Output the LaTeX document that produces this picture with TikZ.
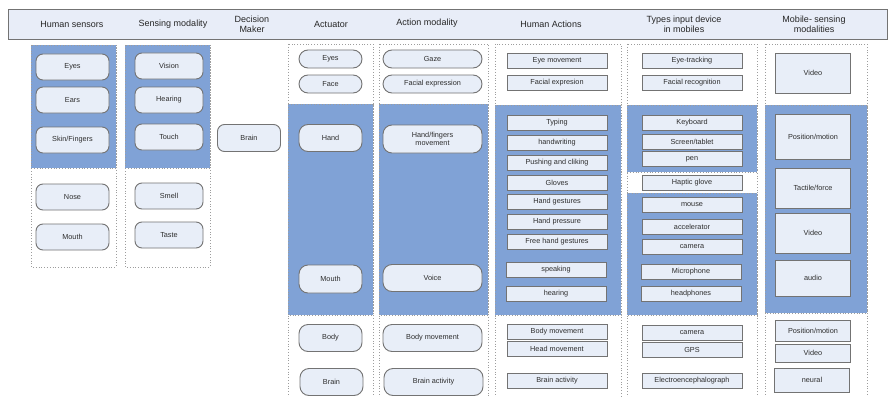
\documentclass[tikz,border=0pt]{standalone}
\usepackage{fontspec}
\setmainfont{Liberation Sans}
\definecolor{regblue}{RGB}{128,162,214}
\definecolor{nodefill}{RGB}{232,238,248}
\definecolor{hdrfill}{RGB}{232,237,248}
\definecolor{edgegray}{RGB}{115,115,115}
\definecolor{txt}{RGB}{45,45,45}
\begin{document}
\begin{tikzpicture}[x=1pt,y=-1pt,
  hdr/.style={font=\fontsize{9}{10}\selectfont, text=black!85, align=center},
  wreg/.style={draw=edgegray!70, dotted, line width=0.8pt, fill=white},
  breg/.style={draw=edgegray!70, dotted, line width=0.8pt, fill=regblue},
  rbox/.style={draw=edgegray, line width=0.9pt, fill=nodefill, rounded corners=7pt, inner sep=0pt,
     font=\fontsize{7.3}{8.3}\selectfont, text=txt, align=center},
  pbox/.style={draw=edgegray, line width=0.9pt, fill=nodefill, rounded corners=9pt, inner sep=0pt,
     font=\fontsize{7.3}{8.3}\selectfont, text=txt, align=center},
  sbox/.style={draw=edgegray, line width=0.9pt, fill=nodefill, inner sep=0pt,
     font=\fontsize{7.3}{8.3}\selectfont, text=txt, align=center, minimum width=100pt, minimum height=15pt}
]
\useasboundingbox (0,0) rectangle (888,396);
% header bar
\node[draw=edgegray, line width=0.9pt, fill=hdrfill, inner sep=0pt, minimum width=879pt, minimum height=30pt] (hdrbar) at (447.5,24) {};
\node[hdr] (h1) at (72,24) {Human sensors};
\node[hdr] (h2) at (173,24) {Sensing modality};
\node[hdr] (h3) at (252,24) {Decision\\Maker};
\node[hdr] (h4) at (331,24) {Actuator};
\node[hdr] (h5) at (427,23) {Action modality};
\node[hdr] (h6) at (551,24) {Human Actions};
\node[hdr] (h7) at (684,24) {Types input device\\in mobiles};
\node[hdr] (h8) at (814,24) {Mobile- sensing\\modalities};

% regions
\draw[wreg] (31,45) rectangle (116,267);
\draw[breg] (31,45) rectangle (116,168);
\draw[wreg] (125,45) rectangle (210,267);
\draw[breg] (125,45) rectangle (210,168);
\draw[wreg] (288,44) rectangle (373,398);
\draw[breg] (288,104) rectangle (373,315);
\draw[wreg] (379,44) rectangle (488,398);
\draw[breg] (379,104) rectangle (488,315);
\draw[wreg] (495,44) rectangle (621,398);
\draw[breg] (495,105) rectangle (621,315);
\draw[wreg] (627,44) rectangle (757,398);
\draw[breg] (627,105) rectangle (757,172);
\draw[breg] (627,193) rectangle (757,315);
\draw[wreg] (765,44) rectangle (867,398);
\draw[breg] (765,105) rectangle (867,313);

% Human sensors
\begin{scope}[every node/.style={rbox, minimum width=73pt, minimum height=26pt}]
\node (s1) at (72.5,67) {Eyes};
\node (s2) at (72.5,100) {Ears};
\node (s3) at (72.5,140) {Skin/Fingers};
\node (s4) at (72.5,197) {Nose};
\node (s5) at (72.5,237) {Mouth};
\end{scope}
% Sensing modality
\begin{scope}[every node/.style={rbox, minimum width=68pt, minimum height=26pt}]
\node (m1) at (169,66) {Vision};
\node (m2) at (169,100) {Hearing};
\node (m3) at (169,137) {Touch};
\node (m4) at (169,196) {Smell};
\node (m5) at (169,235) {Taste};
\end{scope}
% Decision maker
\node[rbox, minimum width=63pt, minimum height=27pt] (brain) at (249,138) {Brain};

% Actuator
\node[pbox, minimum width=63pt, minimum height=18pt] (a1) at (330.5,59) {Eyes};
\node[pbox, minimum width=63pt, minimum height=18pt] (a2) at (330.5,84) {Face};
\node[pbox, minimum width=63pt, minimum height=27pt] (a3) at (330.5,138) {Hand};
\node[pbox, minimum width=63pt, minimum height=28pt] (a4) at (330.5,279) {Mouth};
\node[pbox, minimum width=63pt, minimum height=27pt] (a5) at (330.5,338) {Body};
\node[pbox, minimum width=63pt, minimum height=27pt] (a6) at (331.5,382) {Brain};

% Action modality
\node[pbox, minimum width=99pt, minimum height=18pt] (am1) at (432.5,59) {Gaze};
\node[pbox, minimum width=99pt, minimum height=18pt] (am2) at (432.5,84) {Facial expression};
\node[pbox, minimum width=99pt, minimum height=28pt] (am3) at (432.5,139) {Hand/fingers\\movement};
\node[pbox, minimum width=99pt, minimum height=27pt] (am4) at (432.5,278) {Voice};
\node[pbox, minimum width=99pt, minimum height=27pt] (am5) at (432.5,338) {Body movement};
\node[pbox, minimum width=99pt, minimum height=27pt] (am6) at (433.5,382) {Brain activity};

% Human actions
\begin{scope}[every node/.style={sbox}]
\node (ha1) at (557,61) {Eye movement};
\node (ha2) at (557,83) {Facial expresion};
\node (ha3) at (557,123) {Typing};
\node (ha4) at (557,143) {handwriting};
\node (ha5) at (557,163) {Pushing and cliking};
\node (ha6) at (557,183) {Gloves};
\node (ha7) at (557,202) {Hand gestures};
\node (ha8) at (557,222) {Hand pressure};
\node (ha9) at (557,242) {Free hand gestures};
\node (ha10) at (556,270) {speaking};
\node (ha11) at (556,294) {hearing};
\node (ha12) at (557,332) {Body movement};
\node (ha13) at (557,349) {Head movement};
\node (ha14) at (557,381) {Brain activity};
\end{scope}

% Types input device
\begin{scope}[every node/.style={sbox}]
\node (d1) at (692,61) {Eye-tracking};
\node (d2) at (692,83) {Facial recognition};
\node (d3) at (692,123) {Keyboard};
\node (d4) at (692,142) {Screen/tablet};
\node (d5) at (692,159) {pen};
\node (d6) at (692,183) {Haptic glove};
\node (d7) at (692,205) {mouse};
\node (d8) at (692,227) {accelerator};
\node (d9) at (692,247) {camera};
\node (d10) at (691,272) {Microphone};
\node (d11) at (691,294) {headphones};
\node (d12) at (692,333) {camera};
\node (d13) at (692,350) {GPS};
\node (d14) at (692,381) {Electroencephalograph};
\end{scope}

% Mobile sensing modalities
\begin{scope}[every node/.style={sbox, minimum width=75pt}]
\node[minimum height=40pt] (ms1) at (813,73) {Video};
\node[minimum height=45pt] (ms2) at (813,137) {Position/motion};
\node[minimum height=40pt] (ms3) at (813,188) {Tactile/force};
\node[minimum height=40pt] (ms4) at (813,233) {Video};
\node[minimum height=36pt] (ms5) at (813,278) {audio};
\node[minimum height=21pt] (ms6) at (813,330.5) {Position/motion};
\node[minimum height=18pt] (ms7) at (813,353) {Video};
\node[minimum height=24pt] (ms8) at (812,380) {neural};
\end{scope}
\end{tikzpicture}
\end{document}
